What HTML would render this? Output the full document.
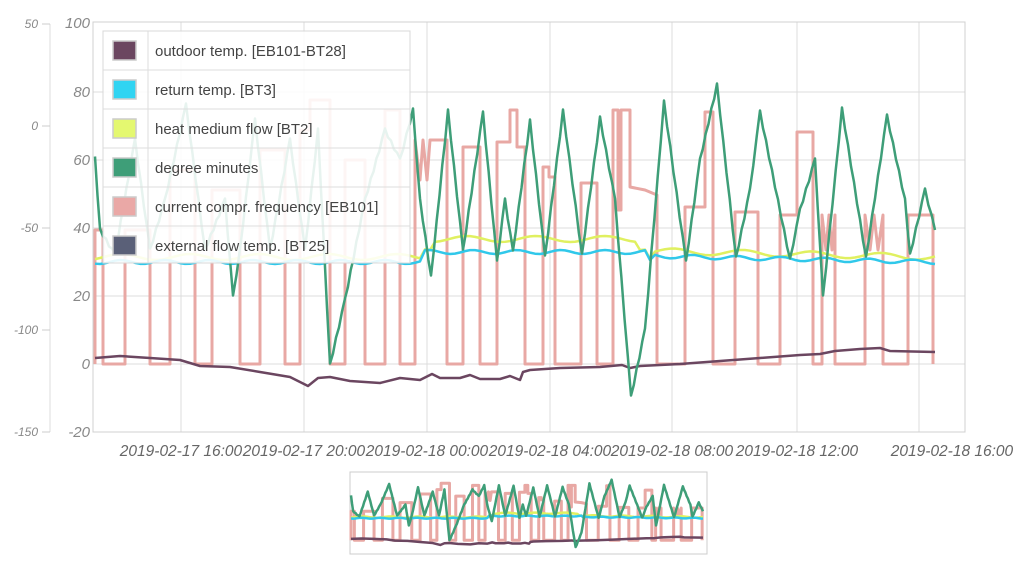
<!DOCTYPE html>
<html><head><meta charset="utf-8"><style>
body{margin:0;background:#fff;width:1024px;height:567px;overflow:hidden;font-family:"Liberation Sans",sans-serif}
svg{position:absolute;left:0;top:0}
.lab{font-style:italic;fill:#888;font-size:12px}
.rlab{font-style:italic;fill:#888;font-size:15px}
.xl{font-style:italic;fill:#666;font-size:15.5px}
.lg{font-size:15px;fill:#444}
</style></head><body>
<svg width="1024" height="567" viewBox="0 0 1024 567" xmlns="http://www.w3.org/2000/svg">
<defs>
<g id="series" fill="none" stroke-linejoin="round">
  <path id="pink" stroke="#e8a8a4" stroke-width="3" vector-effect="non-scaling-stroke"/>
  <path id="purple" stroke="#6b4660" stroke-width="2.5" vector-effect="non-scaling-stroke"/>
  <path id="yellow" stroke="#e0f060" stroke-width="2.5" vector-effect="non-scaling-stroke"/>
  <path id="cyan" stroke="#30c8ea" stroke-width="2.5" vector-effect="non-scaling-stroke"/>
  <path id="green" stroke="#3e9e78" stroke-width="2.5" vector-effect="non-scaling-stroke"/>
</g>
</defs>
<g stroke="#dcdcdc" stroke-width="1">
  <line x1="93" y1="92" x2="965" y2="92"/><line x1="93" y1="160" x2="965" y2="160"/>
  <line x1="93" y1="228" x2="965" y2="228"/><line x1="93" y1="296" x2="965" y2="296"/>
  <line x1="93" y1="364" x2="965" y2="364"/>
  <line x1="181" y1="22" x2="181" y2="432"/><line x1="304" y1="22" x2="304" y2="432"/>
  <line x1="427" y1="22" x2="427" y2="432"/><line x1="550" y1="22" x2="550" y2="432"/>
  <line x1="672" y1="22" x2="672" y2="432"/><line x1="797" y1="22" x2="797" y2="432"/>
  <line x1="919" y1="22" x2="919" y2="432"/>
</g>
<rect x="93" y="22" width="872" height="410" fill="none" stroke="#d0d0d0"/>
<line x1="50" y1="24" x2="50" y2="432" stroke="#ddd"/>
<g stroke="#ccc"><line x1="42" y1="24" x2="50" y2="24"/><line x1="42" y1="126" x2="50" y2="126"/><line x1="42" y1="228" x2="50" y2="228"/><line x1="42" y1="330" x2="50" y2="330"/><line x1="42" y1="432" x2="50" y2="432"/></g>
<g class="lab" text-anchor="end">
<text x="38" y="28">50</text><text x="38" y="130">0</text><text x="38" y="232">-50</text><text x="38" y="334">-100</text><text x="38" y="436">-150</text></g>
<g class="rlab" text-anchor="end">
<text x="90" y="28">100</text><text x="90" y="97">80</text><text x="90" y="165">60</text><text x="90" y="233">40</text><text x="90" y="301">20</text><text x="90" y="369">0</text><text x="90" y="437">-20</text></g>
<g class="xl" text-anchor="middle">
<text x="181" y="456">2019-02-17 16:00</text><text x="304" y="456">2019-02-17 20:00</text>
<text x="427" y="456">2019-02-18 00:00</text><text x="550" y="456">2019-02-18 04:00</text>
<text x="672" y="456">2019-02-18 08:00</text><text x="797" y="456">2019-02-18 12:00</text>
<text x="952" y="456">2019-02-18 16:00</text></g>
<use href="#series"/>
<g>
<rect x="103" y="31" width="307" height="232" fill="#fff" fill-opacity="0.88" stroke="#d8d8d8"/>
<line x1="148" y1="31" x2="148" y2="263" stroke="#ddd"/>
<g stroke="#ddd"><line x1="103" y1="70" x2="410" y2="70"/><line x1="103" y1="109" x2="410" y2="109"/><line x1="103" y1="148" x2="410" y2="148"/><line x1="103" y1="187" x2="410" y2="187"/><line x1="103" y1="226" x2="410" y2="226"/></g>
<g stroke="#ccc" stroke-width="1.5">
<rect x="113" y="41" width="23" height="19" fill="#6b4660"/>
<rect x="113" y="80" width="23" height="19" fill="#30d4f2"/>
<rect x="113" y="119" width="23" height="19" fill="#e4f870"/>
<rect x="113" y="158" width="23" height="19" fill="#3e9e78"/>
<rect x="113" y="197" width="23" height="19" fill="#eaa8a6"/>
<rect x="113" y="236" width="23" height="19" fill="#5a6078"/></g>
<g class="lg">
<text x="155" y="56">outdoor temp. [EB101-BT28]</text>
<text x="155" y="95">return temp. [BT3]</text>
<text x="155" y="134">heat medium flow [BT2]</text>
<text x="155" y="173">degree minutes</text>
<text x="155" y="212">current compr. frequency [EB101]</text>
<text x="155" y="251">external flow temp. [BT25]</text></g>
</g>
<rect x="350" y="472" width="357" height="82" fill="#fff" stroke="#ccc"/>
<g transform="translate(311.2,461.6) scale(0.419,0.216)"><use href="#series"/></g>
</svg>
<script>
function P(a){return 'M'+a.map(p=>p[0]+' '+p[1]).join(' L');}
document.getElementById('purple').setAttribute('d',P([[95,358],[120,356],[150,358],[180,360],[200,366],[230,367],[260,372],[290,377],[308,386],[318,378],[330,377],[350,381],[380,383],[400,378],[420,380],[432,374],[440,378],[460,378],[470,375],[480,379],[500,379],[510,376],[520,380],[523,372],[530,370],[560,368],[600,367],[622,365],[630,368],[640,366],[680,364],[720,361],[760,358],[800,355],[820,354],[835,351],[860,349],[880,348],[890,351],[935,352]]));
var c=[],y=[];for(var x=95;x<=935;x+=5){var base=262-(x>420&&x<650?10:0)-(x>650?((935-x)/285)*6:0);c.push([x,base+2*Math.sin(x/7)]);y.push([x,base-5+3*Math.sin(x/11)-(x>430&&x<640?8:0)]);}
document.getElementById('cyan').setAttribute('d',P(c));
document.getElementById('yellow').setAttribute('d',P(y));
var g=[[95,158],[100,230],[115,255],[135,140],[150,250],[165,200],[186,105],[205,250],[225,200],[233,297],[240,250],[255,120],[270,250],[290,140],[305,250],[318,130],[330,365],[345,300],[365,200],[385,130],[400,160],[413,110],[420,200],[431,277],[448,111],[463,251],[483,113],[497,262],[505,200],[513,252],[530,121],[545,257],[563,111],[582,255],[600,118],[615,200],[631,397],[645,330],[664,102],[686,262],[700,160],[717,85],[736,258],[750,190],[760,112],[790,260],[800,210],[815,160],[823,297],[842,109],[866,258],[887,116],[905,200],[910,255],[925,190],[935,230]];
var gs=[];for(var i=0;i<g.length-1;i++){var a=g[i],b=g[i+1],n=Math.max(2,Math.round((b[0]-a[0])/3));for(var k=0;k<n;k++){var t=k/n;gs.push([(a[0]+(b[0]-a[0])*t).toFixed(1),(a[1]+(b[1]-a[1])*t+(k%2?1.5:-1.5)).toFixed(1)]);}}gs.push(g[g.length-1]);
document.getElementById('green').setAttribute('d',P(gs));
var pk=[[95,364],[95,230],[103,230],[103,364],[125,364],[125,230],[150,230],[150,364],[170,364],[170,170],[195,170],[195,364],[212,364],[212,190],[240,190],[240,364],[260,364],[260,150],[285,150],[285,364],[300,364],[300,130],[310,130],[310,100],[330,100],[330,364],[345,364],[345,160],[365,160],[365,364],[385,364],[385,110],[400,110],[400,364],[415,364],[415,140],[420,180],[423,140],[427,180],[430,140],[447,140],[447,364],[463,364],[463,147],[480,147],[480,364],[497,364],[497,142],[510,142],[510,110],[517,110],[517,147],[525,147],[525,364],[543,364],[543,167],[549,167],[549,177],[555,177],[555,364],[581,364],[581,183],[597,183],[597,364],[613,364],[613,110],[618,110],[618,210],[621,210],[621,110],[630,110],[630,187],[645,190],[657,195],[657,364],[685,364],[685,207],[705,207],[705,112],[713,112],[713,364],[735,364],[735,212],[758,212],[758,364],[780,364],[780,215],[797,215],[797,132],[813,132],[813,364],[822,364],[822,215],[826,250],[829,215],[832,250],[835,215],[835,364],[865,364],[865,215],[870,250],[874,215],[878,250],[883,215],[883,364],[908,364],[908,215],[933,215],[933,364]];
document.getElementById('pink').setAttribute('d',P(pk));
</script>
</body></html>
